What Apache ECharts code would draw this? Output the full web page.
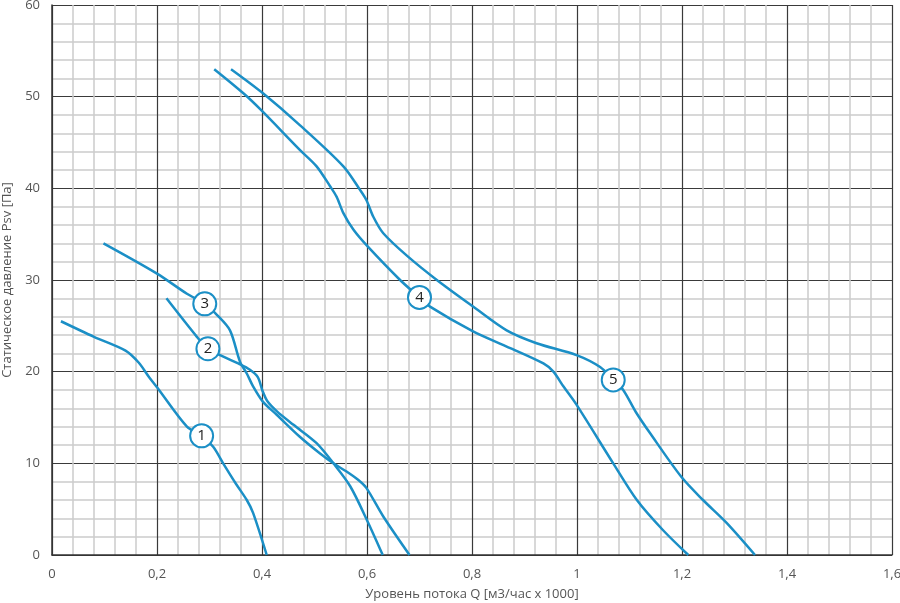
<!DOCTYPE html>
<html>
<head>
<meta charset="utf-8">
<script src="https://cdn.jsdelivr.net/npm/echarts@6/dist/echarts.min.js"></script>
<style>html,body{margin:0;padding:0;background:#fff}#c{width:900px;height:603px}</style>
</head>
<body>
<div id="c"></div>
<script>
// Curve data [Q (m3/h x1000), Psv (Pa)]
var curve1 = [[0.017,25.5],[0.08,23.8],[0.14,22.3],[0.165,21.0],[0.185,19.4],[0.2,18.3],[0.257,14.0],[0.285,13.0],[0.307,11.8],[0.326,10.0],[0.35,7.8],[0.371,6.0],[0.383,4.6],[0.409,0]];
var curve2 = [[0.218,28.0],[0.276,23.8],[0.297,22.5],[0.32,21.8],[0.358,20.8],[0.377,20.2],[0.392,19.4],[0.401,17.9],[0.41,16.8],[0.428,15.7],[0.46,14.2],[0.504,12.2],[0.536,10.0],[0.568,7.5],[0.60,3.8],[0.63,0]];
var curve3 = [[0.098,34.0],[0.2,30.7],[0.257,28.5],[0.291,27.4],[0.314,26.2],[0.339,24.5],[0.358,21.1],[0.371,19.8],[0.383,18.4],[0.402,16.7],[0.428,15.3],[0.472,12.9],[0.51,11.1],[0.536,10.0],[0.561,9.1],[0.583,8.2],[0.599,7.3],[0.631,4.2],[0.681,0]];
var curve4 = [[0.309,53.0],[0.364,50.4],[0.399,48.5],[0.472,44.2],[0.504,42.4],[0.53,40.2],[0.542,39.1],[0.555,37.3],[0.574,35.5],[0.599,33.8],[0.663,30.0],[0.70,28.1],[0.72,27.1],[0.802,24.4],[0.86,22.9],[0.936,20.9],[0.955,20.0],[0.974,18.4],[0.999,16.4],[1.069,10.0],[1.114,6.0],[1.164,2.7],[1.212,0]];
var curve5 = [[0.341,53.0],[0.399,50.5],[0.472,46.9],[0.555,42.4],[0.587,39.8],[0.599,38.7],[0.612,36.9],[0.631,35.1],[0.677,32.6],[0.733,30.0],[0.802,27.1],[0.866,24.5],[0.923,23.1],[0.999,21.8],[1.044,20.5],[1.069,19.1],[1.088,18.0],[1.112,15.6],[1.139,13.3],[1.199,8.5],[1.24,6.0],[1.285,3.5],[1.339,0]];
var curveLabels = [['1',0.285,13.0],['2',0.297,22.5],['3',0.291,27.4],['4',0.70,28.1],['5',1.069,19.1]];
var xName = 'Уровень потока Q [м3/час x 1000]';
var yName = 'Статическое давление Psv [Па]';

var BLUE = '#1b8fc6';
var FONT = '"Open Sans", "Noto Sans", sans-serif';
function fmtX(v){ var r = Math.round(v*10)/10; return (r % 1 === 0) ? String(r) : r.toFixed(1).replace('.', ','); }

var curves = [curve1, curve2, curve3, curve4, curve5];
var series = curves.map(function(d){
  return { type:'line', data:d, smooth:0.3, showSymbol:false, symbol:'none',
    lineStyle:{color:BLUE, width:2.5}, z:3, silent:true };
});
series.push({
  type:'scatter', z:10, symbol:'circle', symbolSize:23,
  data: curveLabels.map(function(l){ return {value:[l[1], l[2]], name:l[0]}; }),
  itemStyle:{color:'#fff', borderColor:BLUE, borderWidth:2, opacity:1},
  label:{show:true, position:'inside', formatter:function(p){return p.name;}, color:'#222', fontSize:15, fontFamily:FONT}
});

var chart = echarts.init(document.getElementById('c'), null, {renderer:'canvas'});
chart.setOption({
  animation:false,
  backgroundColor:'#fff',
  grid:{left:52, right:8, top:5, bottom:48, containLabel:false, outerBoundsMode:'none'},
  xAxis:{
    type:'value', min:0, max:1.6, interval:0.2,
    name:xName, nameLocation:'middle', nameGap:33,
    nameTextStyle:{color:'#555', fontSize:13, fontFamily:FONT},
    axisLine:{show:true, lineStyle:{color:'#333', width:1.5}},
    axisTick:{show:false},
    axisLabel:{color:'#555', fontSize:13, fontFamily:FONT, margin:13, formatter:fmtX, showMaxLabel:true},
    splitLine:{show:true, lineStyle:{color:'#3a3a3a', width:1.2}},
    minorTick:{show:false, splitNumber:5},
    minorSplitLine:{show:true, lineStyle:{color:'#cccccc', width:1.5}}
  },
  yAxis:{
    type:'value', min:0, max:60, interval:10,
    name:yName, nameLocation:'middle', nameGap:38, nameRotate:90,
    nameTextStyle:{color:'#555', fontSize:13, fontFamily:FONT},
    axisLine:{show:true, lineStyle:{color:'#333', width:1.5}},
    axisTick:{show:false},
    axisLabel:{color:'#555', fontSize:13, fontFamily:FONT, margin:12},
    splitLine:{show:true, lineStyle:{color:'#3a3a3a', width:1.2}},
    minorTick:{show:false, splitNumber:5},
    minorSplitLine:{show:true, lineStyle:{color:'#cccccc', width:1.5}}
  },
  series:series
});
</script>
</body>
</html>
